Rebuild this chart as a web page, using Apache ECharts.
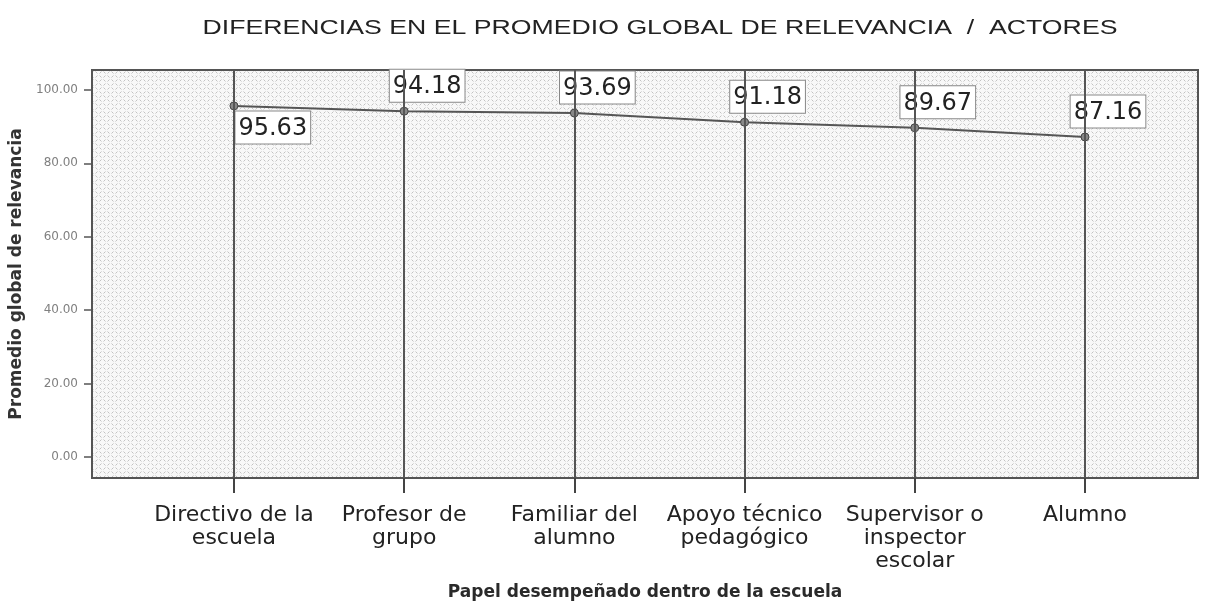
<!DOCTYPE html>
<html>
<head>
<meta charset="utf-8">
<script src="https://cdn.jsdelivr.net/npm/echarts@6/dist/echarts.min.js"></script>
<style>
  html, body { margin: 0; padding: 0; background: #fff; }
  #chart { width: 1210px; height: 603px; }
</style>
</head>
<body>
<div id="chart"></div>
<script>
// datos
const titulo = 'DIFERENCIAS EN EL PROMEDIO GLOBAL DE RELEVANCIA  /  ACTORES';
const categorias = ['Directivo de la\nescuela', 'Profesor de\ngrupo', 'Familiar del\nalumno', 'Apoyo técnico\npedagógico', 'Supervisor o\ninspector\nescolar', 'Alumno'];
const promedios = [95.63, 94.18, 93.69, 91.18, 89.67, 87.16];
const yTicks = [0, 20, 40, 60, 80, 100];
const posiciones = [0, 1, 2, 3, 4, 5];

// fondo punteado como el de SPSS
const makePattern = () => {
    let c = document.createElement('canvas');
    c.width = 8;
    c.height = 8;
    let ctx = c.getContext('2d');
    ctx.fillStyle = '#f8f8f8';
    ctx.fillRect(0, 0, 8, 8);
    ctx.fillStyle = '#c2c2c2';
    [[0, 0], [4, 0], [0, 4], [4, 4]].forEach(([x, y]) => ctx.fillRect(x, y, 1, 1));
    ctx.fillStyle = '#dedede';
    [[1, 1], [3, 3], [3, 1], [1, 3], [5, 5], [7, 7], [7, 5], [5, 7]].forEach(([x, y]) => ctx.fillRect(x, y, 1, 1));
    return c;
}

const puntos = promedios.map((v, i) => {
    let p = { value: [posiciones[i], v] };
    if (i === 0) {
        p.label = { position: [6, 10], offset: [0, 0] };
    }
    return p;
});

const option = {
    backgroundColor: '#fff',
    animation: false,
    graphic: [
        {
            type: 'text',
            x: 660,
            y: 28,
            scaleX: 1.27,
            style: {
                text: titulo,
                textAlign: 'center',
                textVerticalAlign: 'middle',
                font: 'normal 21px "Liberation Sans"',
                fill: '#222'
            }
        }
    ],
    grid: {
        left: 92,
        right: 12,
        top: 70,
        bottom: 125,
        outerBoundsMode: 'none',
        containLabel: false,
        show: true,
        backgroundColor: { image: makePattern(), repeat: 'repeat' },
        borderColor: '#555',
        borderWidth: 2
    },
    xAxis: {
        type: 'value',
        min: -0.834,
        max: 5.664,
        position: 'bottom',
        name: 'Papel desempeñado dentro de la escuela',
        nameLocation: 'middle',
        nameGap: 106,
        nameTextStyle: {
            fontFamily: 'DejaVu Sans',
            fontSize: 17,
            fontWeight: 'bold',
            color: '#2a2a2a'
        },
        axisLine: { show: false, onZero: false },
        splitLine: { show: false },
        axisTick: {
            show: true,
            customValues: posiciones,
            length: 15,
            lineStyle: { color: '#444', width: 2 }
        },
        axisLabel: {
            customValues: posiciones,
            formatter: (v) => categorias[Math.round(v)],
            margin: 26,
            fontFamily: 'DejaVu Sans',
            fontSize: 22,
            lineHeight: 23,
            color: '#222'
        }
    },
    yAxis: {
        type: 'value',
        min: -5.7,
        max: 105.4,
        position: 'left',
        name: 'Promedio global de relevancia',
        nameLocation: 'middle',
        nameGap: 60,
        nameTextStyle: {
            fontFamily: 'DejaVu Sans',
            fontSize: 17,
            fontWeight: 'bold',
            color: '#333'
        },
        axisLine: { show: false, onZero: false },
        splitLine: { show: false },
        axisTick: {
            show: true,
            customValues: yTicks,
            length: 8,
            lineStyle: { color: '#555', width: 1.5 }
        },
        axisLabel: {
            customValues: yTicks,
            formatter: (v) => v.toFixed(2),
            margin: 14,
            fontFamily: 'DejaVu Sans',
            fontSize: 12,
            color: '#808080'
        }
    },
    series: [
        {
            type: 'line',
            data: puntos,
            symbol: 'circle',
            symbolSize: 8,
            lineStyle: { color: '#555', width: 2 },
            itemStyle: { color: '#888', borderColor: '#444', borderWidth: 1 },
            label: {
                show: true,
                position: 'top',
                offset: [23, 0],
                formatter: (p) => p.value[1].toFixed(2),
                fontFamily: 'DejaVu Sans',
                fontSize: 24,
                color: '#222',
                backgroundColor: '#fff',
                borderColor: '#888',
                borderWidth: 1,
                padding: [5, 3, 3, 3]
            },
            markLine: {
                silent: true,
                symbol: 'none',
                label: { show: false },
                lineStyle: { color: '#555', width: 2, type: 'solid' },
                data: posiciones.map(i => ({ xAxis: i }))
            },
            z: 3
        }
    ]
};

let chart = echarts.init(document.getElementById('chart'));
chart.setOption(option);
</script>
</body>
</html>
